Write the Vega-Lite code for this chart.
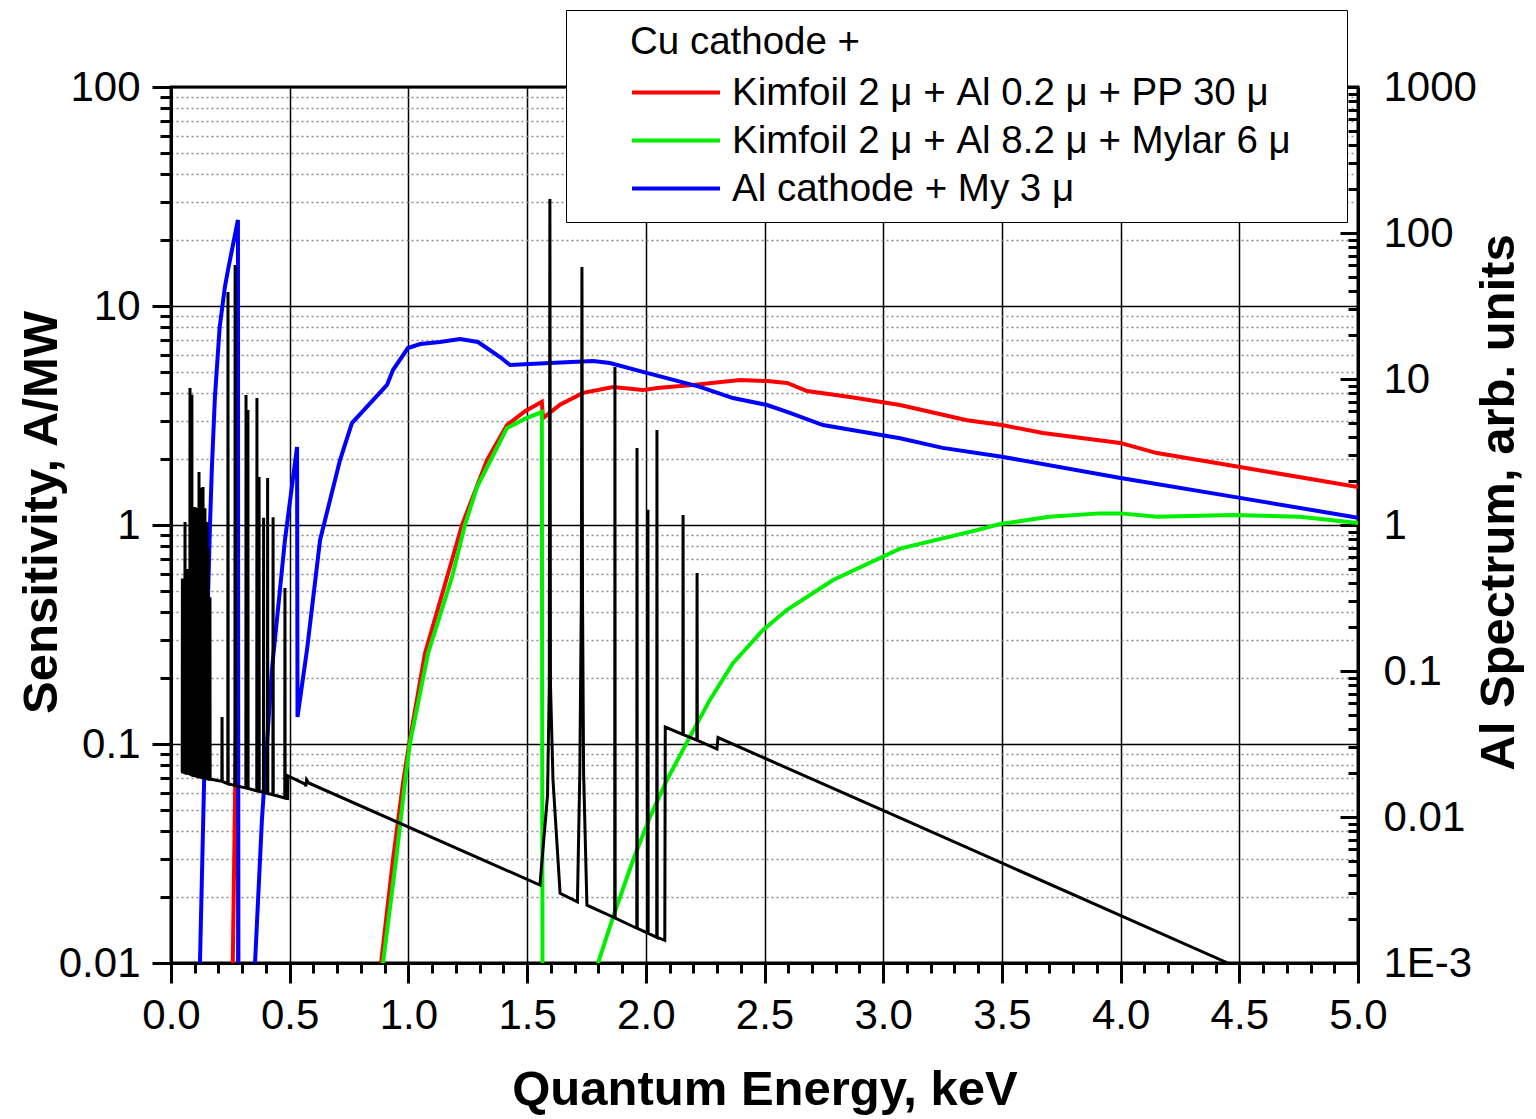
{
"$schema": "https://vega.github.io/schema/vega-lite/v6.json",
"width": 1187, "height": 876,
"autosize": {"type": "none"},
"padding": {"left": 171, "top": 87, "right": 178, "bottom": 156},
"background": "white",
"config": {
  "font": "Liberation Sans",
  "view": {"stroke": "black", "strokeWidth": 3},
  "axis": {"domainColor": "black", "domainWidth": 3, "tickColor": "black", "tickWidth": 3, "labelColor": "black", "labelFontSize": 42, "labelFont": "Liberation Sans", "titleFont": "Liberation Sans", "titleFontSize": 49, "titleFontWeight": "bold", "titleColor": "black"}
},
"datasets": {
"curves": [
{"c":"Kimfoil 2 μ + Al 0.2 μ + PP 30 μ","e":0.25,"s":0.001},
{"c":"Kimfoil 2 μ + Al 0.2 μ + PP 30 μ","e":0.259,"s":0.008},
{"c":"Kimfoil 2 μ + Al 0.2 μ + PP 30 μ","e":0.27,"s":0.06},
{"c":"Kimfoil 2 μ + Al 0.2 μ + PP 30 μ","e":0.278,"s":0.27},
{"c":"Kimfoil 2 μ + Al 0.2 μ + PP 30 μ","e":0.282,"s":1.0},
{"c":"Kimfoil 2 μ + Al 0.2 μ + PP 30 μ","e":0.2835,"s":0.001},
{"c":"Kimfoil 2 μ + Al 0.2 μ + PP 30 μ","e":0.87,"s":0.005},
{"c":"Kimfoil 2 μ + Al 0.2 μ + PP 30 μ","e":0.885,"s":0.01},
{"c":"Kimfoil 2 μ + Al 0.2 μ + PP 30 μ","e":0.935,"s":0.0296},
{"c":"Kimfoil 2 μ + Al 0.2 μ + PP 30 μ","e":0.977,"s":0.066},
{"c":"Kimfoil 2 μ + Al 0.2 μ + PP 30 μ","e":1.003,"s":0.1},
{"c":"Kimfoil 2 μ + Al 0.2 μ + PP 30 μ","e":1.07,"s":0.26},
{"c":"Kimfoil 2 μ + Al 0.2 μ + PP 30 μ","e":1.163,"s":0.579},
{"c":"Kimfoil 2 μ + Al 0.2 μ + PP 30 μ","e":1.226,"s":1.0},
{"c":"Kimfoil 2 μ + Al 0.2 μ + PP 30 μ","e":1.331,"s":1.98},
{"c":"Kimfoil 2 μ + Al 0.2 μ + PP 30 μ","e":1.415,"s":2.86},
{"c":"Kimfoil 2 μ + Al 0.2 μ + PP 30 μ","e":1.49,"s":3.3},
{"c":"Kimfoil 2 μ + Al 0.2 μ + PP 30 μ","e":1.562,"s":3.65},
{"c":"Kimfoil 2 μ + Al 0.2 μ + PP 30 μ","e":1.567,"s":3.08},
{"c":"Kimfoil 2 μ + Al 0.2 μ + PP 30 μ","e":1.64,"s":3.55},
{"c":"Kimfoil 2 μ + Al 0.2 μ + PP 30 μ","e":1.736,"s":4.01},
{"c":"Kimfoil 2 μ + Al 0.2 μ + PP 30 μ","e":1.862,"s":4.27},
{"c":"Kimfoil 2 μ + Al 0.2 μ + PP 30 μ","e":1.988,"s":4.13},
{"c":"Kimfoil 2 μ + Al 0.2 μ + PP 30 μ","e":2.047,"s":4.22},
{"c":"Kimfoil 2 μ + Al 0.2 μ + PP 30 μ","e":2.199,"s":4.36},
{"c":"Kimfoil 2 μ + Al 0.2 μ + PP 30 μ","e":2.397,"s":4.59},
{"c":"Kimfoil 2 μ + Al 0.2 μ + PP 30 μ","e":2.511,"s":4.54},
{"c":"Kimfoil 2 μ + Al 0.2 μ + PP 30 μ","e":2.595,"s":4.45},
{"c":"Kimfoil 2 μ + Al 0.2 μ + PP 30 μ","e":2.679,"s":4.09},
{"c":"Kimfoil 2 μ + Al 0.2 μ + PP 30 μ","e":2.86,"s":3.84},
{"c":"Kimfoil 2 μ + Al 0.2 μ + PP 30 μ","e":3.071,"s":3.53},
{"c":"Kimfoil 2 μ + Al 0.2 μ + PP 30 μ","e":3.353,"s":3.01},
{"c":"Kimfoil 2 μ + Al 0.2 μ + PP 30 μ","e":3.5,"s":2.86},
{"c":"Kimfoil 2 μ + Al 0.2 μ + PP 30 μ","e":3.673,"s":2.63},
{"c":"Kimfoil 2 μ + Al 0.2 μ + PP 30 μ","e":3.998,"s":2.37},
{"c":"Kimfoil 2 μ + Al 0.2 μ + PP 30 μ","e":4.153,"s":2.13},
{"c":"Kimfoil 2 μ + Al 0.2 μ + PP 30 μ","e":4.503,"s":1.84},
{"c":"Kimfoil 2 μ + Al 0.2 μ + PP 30 μ","e":5.0,"s":1.49},
{"c":"Kimfoil 2 μ + Al 8.2 μ + Mylar 6 μ","e":0.875,"s":0.004},
{"c":"Kimfoil 2 μ + Al 8.2 μ + Mylar 6 μ","e":0.893,"s":0.01},
{"c":"Kimfoil 2 μ + Al 8.2 μ + Mylar 6 μ","e":0.948,"s":0.0296},
{"c":"Kimfoil 2 μ + Al 8.2 μ + Mylar 6 μ","e":0.985,"s":0.066},
{"c":"Kimfoil 2 μ + Al 8.2 μ + Mylar 6 μ","e":1.006,"s":0.1},
{"c":"Kimfoil 2 μ + Al 8.2 μ + Mylar 6 μ","e":1.083,"s":0.26},
{"c":"Kimfoil 2 μ + Al 8.2 μ + Mylar 6 μ","e":1.184,"s":0.579},
{"c":"Kimfoil 2 μ + Al 8.2 μ + Mylar 6 μ","e":1.238,"s":1.0},
{"c":"Kimfoil 2 μ + Al 8.2 μ + Mylar 6 μ","e":1.289,"s":1.49},
{"c":"Kimfoil 2 μ + Al 8.2 μ + Mylar 6 μ","e":1.415,"s":2.77},
{"c":"Kimfoil 2 μ + Al 8.2 μ + Mylar 6 μ","e":1.49,"s":3.05},
{"c":"Kimfoil 2 μ + Al 8.2 μ + Mylar 6 μ","e":1.562,"s":3.28},
{"c":"Kimfoil 2 μ + Al 8.2 μ + Mylar 6 μ","e":1.566,"s":0.001},
{"c":"Kimfoil 2 μ + Al 8.2 μ + Mylar 6 μ","e":1.785,"s":0.0075},
{"c":"Kimfoil 2 μ + Al 8.2 μ + Mylar 6 μ","e":1.799,"s":0.01},
{"c":"Kimfoil 2 μ + Al 8.2 μ + Mylar 6 μ","e":1.862,"s":0.0162},
{"c":"Kimfoil 2 μ + Al 8.2 μ + Mylar 6 μ","e":1.947,"s":0.0296},
{"c":"Kimfoil 2 μ + Al 8.2 μ + Mylar 6 μ","e":2.018,"s":0.0465},
{"c":"Kimfoil 2 μ + Al 8.2 μ + Mylar 6 μ","e":2.089,"s":0.0685},
{"c":"Kimfoil 2 μ + Al 8.2 μ + Mylar 6 μ","e":2.186,"s":0.108},
{"c":"Kimfoil 2 μ + Al 8.2 μ + Mylar 6 μ","e":2.27,"s":0.159},
{"c":"Kimfoil 2 μ + Al 8.2 μ + Mylar 6 μ","e":2.367,"s":0.234},
{"c":"Kimfoil 2 μ + Al 8.2 μ + Mylar 6 μ","e":2.494,"s":0.332},
{"c":"Kimfoil 2 μ + Al 8.2 μ + Mylar 6 μ","e":2.595,"s":0.41},
{"c":"Kimfoil 2 μ + Al 8.2 μ + Mylar 6 μ","e":2.789,"s":0.561},
{"c":"Kimfoil 2 μ + Al 8.2 μ + Mylar 6 μ","e":3.071,"s":0.78},
{"c":"Kimfoil 2 μ + Al 8.2 μ + Mylar 6 μ","e":3.395,"s":0.948},
{"c":"Kimfoil 2 μ + Al 8.2 μ + Mylar 6 μ","e":3.492,"s":1.01},
{"c":"Kimfoil 2 μ + Al 8.2 μ + Mylar 6 μ","e":3.7,"s":1.09},
{"c":"Kimfoil 2 μ + Al 8.2 μ + Mylar 6 μ","e":3.913,"s":1.13},
{"c":"Kimfoil 2 μ + Al 8.2 μ + Mylar 6 μ","e":4.0,"s":1.13},
{"c":"Kimfoil 2 μ + Al 8.2 μ + Mylar 6 μ","e":4.153,"s":1.09},
{"c":"Kimfoil 2 μ + Al 8.2 μ + Mylar 6 μ","e":4.473,"s":1.11},
{"c":"Kimfoil 2 μ + Al 8.2 μ + Mylar 6 μ","e":4.756,"s":1.09},
{"c":"Kimfoil 2 μ + Al 8.2 μ + Mylar 6 μ","e":5.0,"s":1.02},
{"c":"Al cathode + My 3 μ","e":0.115,"s":0.001},
{"c":"Al cathode + My 3 μ","e":0.12,"s":0.007},
{"c":"Al cathode + My 3 μ","e":0.122,"s":0.01},
{"c":"Al cathode + My 3 μ","e":0.143,"s":0.1},
{"c":"Al cathode + My 3 μ","e":0.156,"s":0.469},
{"c":"Al cathode + My 3 μ","e":0.164,"s":0.98},
{"c":"Al cathode + My 3 μ","e":0.172,"s":1.8},
{"c":"Al cathode + My 3 μ","e":0.185,"s":3.84},
{"c":"Al cathode + My 3 μ","e":0.205,"s":8.0},
{"c":"Al cathode + My 3 μ","e":0.227,"s":12.2},
{"c":"Al cathode + My 3 μ","e":0.24,"s":14.6},
{"c":"Al cathode + My 3 μ","e":0.282,"s":24.7},
{"c":"Al cathode + My 3 μ","e":0.284,"s":0.001},
{"c":"Al cathode + My 3 μ","e":0.345,"s":0.004},
{"c":"Al cathode + My 3 μ","e":0.354,"s":0.01},
{"c":"Al cathode + My 3 μ","e":0.383,"s":0.045},
{"c":"Al cathode + My 3 μ","e":0.425,"s":0.218},
{"c":"Al cathode + My 3 μ","e":0.48,"s":0.855},
{"c":"Al cathode + My 3 μ","e":0.531,"s":2.27},
{"c":"Al cathode + My 3 μ","e":0.533,"s":0.133},
{"c":"Al cathode + My 3 μ","e":0.573,"s":0.27},
{"c":"Al cathode + My 3 μ","e":0.628,"s":0.855},
{"c":"Al cathode + My 3 μ","e":0.712,"s":1.98},
{"c":"Al cathode + My 3 μ","e":0.762,"s":2.92},
{"c":"Al cathode + My 3 μ","e":0.91,"s":4.36},
{"c":"Al cathode + My 3 μ","e":0.935,"s":5.1},
{"c":"Al cathode + My 3 μ","e":0.998,"s":6.43},
{"c":"Al cathode + My 3 μ","e":1.05,"s":6.7},
{"c":"Al cathode + My 3 μ","e":1.133,"s":6.85},
{"c":"Al cathode + My 3 μ","e":1.217,"s":7.07},
{"c":"Al cathode + My 3 μ","e":1.293,"s":6.85},
{"c":"Al cathode + My 3 μ","e":1.386,"s":5.85},
{"c":"Al cathode + My 3 μ","e":1.428,"s":5.38},
{"c":"Al cathode + My 3 μ","e":1.596,"s":5.49},
{"c":"Al cathode + My 3 μ","e":1.778,"s":5.61},
{"c":"Al cathode + My 3 μ","e":1.849,"s":5.49},
{"c":"Al cathode + My 3 μ","e":1.988,"s":5.0},
{"c":"Al cathode + My 3 μ","e":2.228,"s":4.27},
{"c":"Al cathode + My 3 μ","e":2.367,"s":3.8},
{"c":"Al cathode + My 3 μ","e":2.511,"s":3.53},
{"c":"Al cathode + My 3 μ","e":2.607,"s":3.25},
{"c":"Al cathode + My 3 μ","e":2.746,"s":2.86},
{"c":"Al cathode + My 3 μ","e":3.071,"s":2.49},
{"c":"Al cathode + My 3 μ","e":3.25,"s":2.25},
{"c":"Al cathode + My 3 μ","e":3.5,"s":2.05},
{"c":"Al cathode + My 3 μ","e":4.0,"s":1.64},
{"c":"Al cathode + My 3 μ","e":4.503,"s":1.33},
{"c":"Al cathode + My 3 μ","e":5.0,"s":1.08}
],
"spec": [
{"e":0.046,"r":0.0203},
{"e":0.0472,"r":0.0203},{"e":0.048,"r":0.43},{"e":0.0488,"r":0.0203},
{"e":0.0542,"r":0.0202},{"e":0.055,"r":0.25},{"e":0.0558,"r":0.0202},
{"e":0.0582,"r":0.0201},{"e":0.059,"r":1.05},{"e":0.0598,"r":0.0201},
{"e":0.0642,"r":0.02},{"e":0.065,"r":0.3},{"e":0.0658,"r":0.02},
{"e":0.0702,"r":0.02},{"e":0.071,"r":0.5},{"e":0.0718,"r":0.02},
{"e":0.0792,"r":0.0197},{"e":0.08,"r":8.67},{"e":0.0808,"r":0.0197},
{"e":0.0832,"r":0.0196},{"e":0.084,"r":1.5},{"e":0.0848,"r":0.0196},
{"e":0.0872,"r":0.0195},{"e":0.088,"r":7.8},{"e":0.0888,"r":0.0195},
{"e":0.0922,"r":0.0194},{"e":0.093,"r":0.6},{"e":0.0938,"r":0.0194},
{"e":0.0972,"r":0.0193},{"e":0.098,"r":1.0},{"e":0.0988,"r":0.0193},
{"e":0.1002,"r":0.0193},{"e":0.101,"r":1.33},{"e":0.1018,"r":0.0193},
{"e":0.1042,"r":0.0192},{"e":0.105,"r":0.8},{"e":0.1058,"r":0.0192},
{"e":0.1092,"r":0.0191},{"e":0.11,"r":1.31},{"e":0.1108,"r":0.0191},
{"e":0.1132,"r":0.019},{"e":0.114,"r":0.5},{"e":0.1148,"r":0.019},
{"e":0.1172,"r":0.019},{"e":0.118,"r":2.31},{"e":0.1188,"r":0.019},
{"e":0.1212,"r":0.0189},{"e":0.122,"r":0.7},{"e":0.1228,"r":0.0189},
{"e":0.1252,"r":0.0188},{"e":0.126,"r":1.8},{"e":0.1268,"r":0.0188},
{"e":0.1292,"r":0.0188},{"e":0.13,"r":0.6},{"e":0.1308,"r":0.0188},
{"e":0.1342,"r":0.0187},{"e":0.135,"r":1.82},{"e":0.1358,"r":0.0187},
{"e":0.1382,"r":0.0186},{"e":0.139,"r":0.9},{"e":0.1398,"r":0.0186},
{"e":0.1422,"r":0.0186},{"e":0.143,"r":1.3},{"e":0.1438,"r":0.0186},
{"e":0.1462,"r":0.0185},{"e":0.147,"r":0.5},{"e":0.1478,"r":0.0185},
{"e":0.1512,"r":0.0184},{"e":0.152,"r":1.05},{"e":0.1528,"r":0.0184},
{"e":0.1552,"r":0.0183},{"e":0.156,"r":0.7},{"e":0.1568,"r":0.0183},
{"e":0.1632,"r":0.0182},{"e":0.164,"r":0.32},{"e":0.1648,"r":0.0182},
{"e":0.2,"r":0.0177},
{"e":0.2142,"r":0.0176},{"e":0.215,"r":0.0484},{"e":0.2158,"r":0.0175},
{"e":0.2392,"r":0.0169},{"e":0.24,"r":39.5},{"e":0.2408,"r":0.0169},
{"e":0.2692,"r":0.0164},{"e":0.27,"r":60.4},{"e":0.2708,"r":0.0164},
{"e":0.3152,"r":0.0158},{"e":0.316,"r":7.76},{"e":0.3168,"r":0.0158},
{"e":0.3232,"r":0.0157},{"e":0.324,"r":6.14},{"e":0.3248,"r":0.0157},
{"e":0.3612,"r":0.0151},{"e":0.362,"r":7.41},{"e":0.3628,"r":0.0151},
{"e":0.3702,"r":0.015},{"e":0.371,"r":2.13},{"e":0.3718,"r":0.015},
{"e":0.3892,"r":0.0148},{"e":0.39,"r":1.12},{"e":0.3908,"r":0.0148},
{"e":0.4062,"r":0.0145},{"e":0.407,"r":2.1},{"e":0.4078,"r":0.0145},
{"e":0.4292,"r":0.0142},{"e":0.43,"r":1.13},{"e":0.4308,"r":0.0142},
{"e":0.4792,"r":0.0135},{"e":0.48,"r":0.37},{"e":0.4808,"r":0.0135},
{"e":0.491,"r":0.0134},{"e":0.4925,"r":0.0191},
{"e":0.565,"r":0.0168},{"e":0.568,"r":0.0162},{"e":0.571,"r":0.018},{"e":0.58,"r":0.0171},
{"e":1.554,"r":0.00342},{"e":1.586,"r":0.014},{"e":1.5935,"r":0.08},{"e":1.596,"r":171},{"e":1.5985,"r":0.08},{"e":1.609,"r":0.018},{"e":1.639,"r":0.003},
{"e":1.712,"r":0.00262},{"e":1.722,"r":0.02},{"e":1.7285,"r":0.3},{"e":1.731,"r":58.5},{"e":1.7335,"r":0.3},{"e":1.738,"r":0.02},{"e":1.752,"r":0.00249},
{"e":1.869,"r":0.00204},{"e":1.87,"r":12.1},{"e":1.871,"r":0.00203},
{"e":1.962,"r":0.00173},{"e":1.963,"r":3.37},{"e":1.964,"r":0.00173},
{"e":2.008,"r":0.0016},{"e":2.009,"r":1.27},{"e":2.01,"r":0.0016},
{"e":2.046,"r":0.0015},{"e":2.047,"r":4.48},{"e":2.048,"r":0.0015},
{"e":2.08,"r":0.00143},{"e":2.082,"r":0.0413},
{"e":2.156,"r":0.0368},{"e":2.157,"r":1.17},{"e":2.158,"r":0.0367},
{"e":2.215,"r":0.0336},{"e":2.216,"r":0.469},{"e":2.217,"r":0.0335},
{"e":2.3,"r":0.0292},{"e":2.304,"r":0.035},
{"e":3.071,"r":0.00985},{"e":4.452,"r":0.001},{"e":4.7,"r":0.00066}
]
},
"encoding": {
  "x": {"field": "e", "type": "quantitative", "scale": {"domain": [0, 5], "nice": false},
    "axis": {
      "values": [0,0.1,0.2,0.3,0.4,0.5,0.6,0.7,0.8,0.9,1,1.1,1.2,1.3,1.4,1.5,1.6,1.7,1.8,1.9,2,2.1,2.2,2.3,2.4,2.5,2.6,2.7,2.8,2.9,3,3.1,3.2,3.3,3.4,3.5,3.6,3.7,3.8,3.9,4,4.1,4.2,4.3,4.4,4.5,4.6,4.7,4.8,4.9,5],
      "title": "Quantum Energy, keV",
      "labelExpr": "abs(datum.value*2-round(datum.value*2))<0.001 ? format(datum.value,'.1f') : ''",
      "labelFlush": false, "labelOverlap": false, "labelBound": false,
      "labelPadding": 12,
      "tickSize": {"condition": {"test": "abs(datum.value*2-round(datum.value*2))<0.001", "value": 20}, "value": 10},
      "grid": true, "gridColor": "black", "gridWidth": 1.5,
      "gridOpacity": {"condition": {"test": "abs(datum.value*2-round(datum.value*2))<0.001", "value": 1}, "value": 0},
      "titlePadding": 29
    }
  }
},
"layer": [
  {
    "data": {"name": "curves"},
    "mark": {"type": "line", "clip": true, "strokeWidth": 4},
    "encoding": {
      "y": {"field": "s", "type": "quantitative", "scale": {"type": "log", "domain": [0.01, 100], "nice": false},
        "axis": {
          "orient": "left",
          "values": [0.01,0.02,0.03,0.04,0.05,0.06,0.07,0.08,0.09,0.1,0.2,0.3,0.4,0.5,0.6,0.7,0.8,0.9,1,2,3,4,5,6,7,8,9,10,20,30,40,50,60,70,80,90,100],
          "title": "Sensitivity, A/MW",
          "labelExpr": "abs(log(datum.value)/LN10-round(log(datum.value)/LN10))<0.001 ? format(datum.value,'~g') : ''",
          "labelFlush": false, "labelOverlap": false, "labelBound": false,
          "labelPadding": 12,
          "tickSize": {"condition": {"test": "abs(log(datum.value)/LN10-round(log(datum.value)/LN10))<0.001", "value": 19}, "value": 11},
          "grid": true,
          "gridColor": {"condition": {"test": "abs(log(datum.value)/LN10-round(log(datum.value)/LN10))<0.001", "value": "black"}, "value": "#8a8a8a"},
          "gridDash": {"condition": {"test": "abs(log(datum.value)/LN10-round(log(datum.value)/LN10))<0.001", "value": []}, "value": [2, 3]},
          "gridWidth": 1.5,
          "titlePadding": -8,
          "titleY": 425
        }
      },
      "color": {"field": "c", "type": "nominal",
        "scale": {"domain": ["Kimfoil 2 μ + Al 0.2 μ + PP 30 μ", "Kimfoil 2 μ + Al 8.2 μ + Mylar 6 μ", "Al cathode + My 3 μ"], "range": ["#ff0000", "#00ee00", "#0000ff"]},
        "legend": {
          "orient": "none", "legendX": 395, "legendY": -77,
          "title": "Cu cathode +", "titleFontSize": 38.5, "titleFontWeight": "normal", "titleFont": "Liberation Sans", "titleColor": "black", "titlePadding": 11, "titleLimit": 0,
          "labelFontSize": 38.5, "labelFont": "Liberation Sans", "labelColor": "black", "labelLimit": 0, "labelOffset": 10,
          "symbolType": "stroke", "symbolSize": 7744, "symbolStrokeWidth": 4, "symbolOffset": 50,
          "clipHeight": 38,
          "rowPadding": 9, "padding": 14,
          "strokeColor": "black", "fillColor": "white",
          "encode": {"title": {"update": {"dx": {"value": 50}}}, "entries": {"update": {"width": {"value": 753}}}}
        }
      }
    }
  },
  {
    "data": {"name": "spec"},
    "mark": {"type": "line", "clip": true, "strokeWidth": 3, "color": "black"},
    "encoding": {
      "y": {"field": "r", "type": "quantitative", "scale": {"type": "log", "domain": [0.001, 1000], "nice": false},
        "axis": {
          "orient": "right",
          "values": [0.001,0.002,0.003,0.004,0.005,0.006,0.007,0.008,0.009,0.01,0.02,0.03,0.04,0.05,0.06,0.07,0.08,0.09,0.1,0.2,0.3,0.4,0.5,0.6,0.7,0.8,0.9,1,2,3,4,5,6,7,8,9,10,20,30,40,50,60,70,80,90,100,200,300,400,500,600,700,800,900,1000],
          "title": "Al Spectrum, arb. units",
          "titleAngle": 270,
          "labelExpr": "abs(log(datum.value)/LN10-round(log(datum.value)/LN10))<0.001 ? (datum.value < 0.005 ? '1E-3' : format(datum.value,'~g')) : ''",
          "labelFlush": false, "labelOverlap": false, "labelBound": false,
          "labelPadding": 43,
          "tickSize": {"condition": {"test": "abs(log(datum.value)/LN10-round(log(datum.value)/LN10))<0.001", "value": -18}, "value": -10},
          "grid": false,
          "titlePadding": 47,
          "titleY": 415
        }
      }
    }
  }
],
"resolve": {"scale": {"y": "independent"}}
}
